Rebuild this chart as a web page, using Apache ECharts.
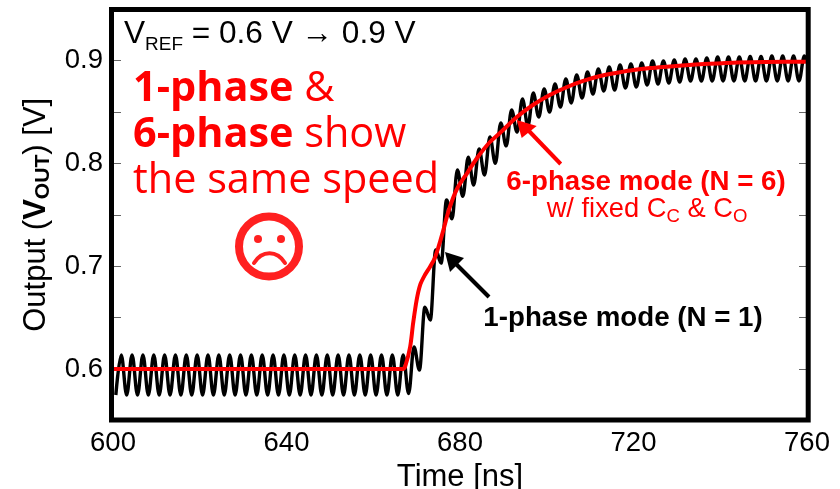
<!DOCTYPE html>
<html><head><meta charset="utf-8">
<style>html,body{margin:0;padding:0;background:#fff}#c{width:840px;height:489px}</style>
<script src="https://cdn.jsdelivr.net/npm/echarts@6/dist/echarts.min.js"></script>
</head><body><div id="c"></div>
<script>
const xTicks = [600, 640, 680, 720, 760];
const yTicks = [0.6, 0.7, 0.8, 0.9];
const onePhaseTime = [
600.65,601.9,603.15,604.4,605.65,606.9,608.15,609.4,610.65,611.9,613.15,614.4,615.65,616.9,618.15,619.4,620.65,621.9,623.15,624.4,
625.65,626.9,628.15,629.4,630.65,631.9,633.15,634.4,635.65,636.9,638.15,639.4,640.65,641.9,643.15,644.4,645.65,646.9,648.15,649.4,
650.65,651.9,653.15,654.4,655.65,656.9,658.15,659.4,660.65,661.9,663.15,664.4,665.65,666.9,668.15,
669.4,670.65,671.9,673.15,674.4,675.65,676.9,678.15,679.4,680.65,681.9,683.15,684.4,685.65,686.9,688.15,689.4,690.65,691.9,693.15,
694.4,695.65,696.9,698.15,699.4,700.65,701.9,703.15,704.4,705.65,706.9,708.15,709.4,710.65,711.9,713.15,714.4,715.65,716.9,718.15,
719.4,720.65,721.9,723.15,724.4,725.65,726.9,728.15,729.4,730.65,731.9,733.15,734.4,735.65,736.9,738.15,739.4,740.65,741.9,743.15,
744.4,745.65,746.9,748.15,749.4,750.65,751.9,753.15,754.4,755.65,756.9,758.15,759.4,760];
const onePhaseVolt = [
.5747,.6136,.5747,.6136,.5747,.6136,.5747,.6136,.5747,.6136,.5747,.6136,.5747,.6136,.5747,.6136,.5747,.6136,.5747,.6136,
.5747,.6136,.5747,.6136,.5747,.6136,.5747,.6136,.5747,.6136,.5747,.6136,.5747,.6136,.5747,.6136,.5747,.6136,.5747,.6136,
.5747,.6136,.5747,.6136,.5747,.6136,.5747,.6136,.5747,.6136,.5747,.6136,.5747,.6136,.576,
.6214,.599,.66,.6477,.7158,.703,.7644,.746,.7936,.768,.806,.779,.814,.7887,.8257,.8,.8393,.817,.852,.8305,
.8626,.8364,.8685,.8451,.8724,.85,.8773,.8549,.8821,.8588,.886,.8636,.8889,.8675,.8918,.8704,.8938,.8714,.8957,.8733,
.8967,.8743,.8977,.8763,.8996,.8772,.8996,.8782,.9006,.8792,.9016,.8802,.9016,.8802,.9025,.8802,.9035,.8802,.9035,.8802,
.9035,.8802,.904,.8802,.904,.8802,.9045,.8802,.9045,.8802,.9045,.8802,.9045,.898];
const sixPhaseTime = [600,640,660,666,666.9,667.4,668.5,669.2,670,670.8,671.9,673.1,674.2,675.4,676.3,677.5,679.3,681.8,684.1,686.9,689.2,693.1,696.8,700.7,704.7,708.4,712.3,716.2,720,723.8,727.7,735.3,742.9,750.8,759.5,760];
const sixPhaseVolt = [.6,.6,.6,.6,.6,.6029,.6214,.6447,.6671,.6817,.6914,.6995,.708,.7238,.7372,.7556,.7751,.7916,.8062,.8208,.8296,.8451,.8568,.8665,.8743,.8802,.885,.8882,.8909,.8928,.8941,.8964,.898,.8986,.8989,.899];

const RED = '#ff0000', FACE = '#ff2020';
const sans = '"Liberation Sans", Arial, sans-serif';
const soft = '"Open Sans", sans-serif';
const zip = (a, b) => a.map((v, i) => [v, b[i]]);
const rich = (size, color, ratio, drop) => ({
  n: {fontFamily: sans, fontSize: size, fill: color, color, verticalAlign: 'bottom', padding: [0, 0, drop || 0, 0]},
  b: {fontFamily: sans, fontSize: size, fontWeight: 'bold', fill: color, color, verticalAlign: 'bottom', padding: [0, 0, drop || 0, 0]},
  s: {fontFamily: sans, fontSize: size * (ratio || 0.68), fill: color, color, verticalAlign: 'bottom', lineHeight: size * 0.95},
  sb: {fontFamily: sans, fontSize: size * (ratio || 0.68), fontWeight: 'bold', fill: color, color, verticalAlign: 'bottom', lineHeight: size * 0.95}
});
const softRich = {
  b: {fontFamily: soft, fontSize: 41.4, fontWeight: 'bold', fill: RED},
  n: {fontFamily: soft, fontSize: 41.4, fill: RED}
};
const txt = (x, y, text, r, align) => ({type: 'text', z: 20, style: {x, y, text, rich: r, align: align || 'left', verticalAlign: 'middle'}});
const arrow = (color, x1, y1, x2, y2, pts) => [
  {type: 'line', z: 18, shape: {x1, y1, x2, y2}, style: {stroke: color, lineWidth: 4}},
  {type: 'polygon', z: 18, shape: {points: pts}, style: {fill: color}}
];

const chart = echarts.init(document.getElementById('c'), null, {renderer: 'canvas'});
const yAxisBase = {
  type: 'value', min: 0.55, max: 0.95, interval: 0.05,
  axisLine: {show: false}, splitLine: {show: false},
  axisTick: {show: true, inside: true, length: 8, lineStyle: {color: '#666', width: 1}}
};
chart.setOption({
  animation: false,
  backgroundColor: '#fff',
  grid: {left: 113, right: 33, top: 9.2, height: 411.2, outerBoundsMode: 'none'},
  xAxis: {
    type: 'value', min: 600, max: 760, interval: 40,
    axisLine: {show: false}, axisTick: {show: false}, splitLine: {show: false},
    axisLabel: {color: '#000', fontFamily: sans, fontSize: 27.5, margin: 9,
      formatter: v => xTicks.includes(v) ? String(v) : ''},
    name: 'Time [ns]', nameLocation: 'middle', nameGap: 35,
    nameTextStyle: {color: '#000', fontFamily: sans, fontSize: 31}
  },
  yAxis: [
    Object.assign({}, yAxisBase, {
      axisLabel: {color: '#000', fontFamily: sans, fontSize: 27.5, margin: 10,
        formatter: v => yTicks.some(t => Math.abs(t - v) < 1e-6) ? v.toFixed(1) : ''},
      name: '{n|Output (}{b|V}{sb|OUT}{n|) [V]}', nameLocation: 'middle', nameGap: 59,
      nameTextStyle: {rich: rich(31, '#000', 0.68, 2)}
    }),
    Object.assign({}, yAxisBase, {position: 'right', axisLabel: {show: false}})
  ],
  series: [
    {name: '1-phase mode (N = 1)', type: 'line', data: zip(onePhaseTime, onePhaseVolt), showSymbol: false,
     smooth: 0.36, smoothMonotone: 'x', lineStyle: {color: '#000', width: 3.4}, z: 3},
    {name: '6-phase mode (N = 6)', type: 'line', data: zip(sixPhaseTime, sixPhaseVolt), showSymbol: false,
     smooth: 0.3, lineStyle: {color: RED, width: 4}, z: 4}
  ],
  graphic: [
    {type: 'rect', z: 30, shape: {x: 111.5, y: 9.5, width: 696.7, height: 410.5}, style: {fill: 'none', stroke: '#000', lineWidth: 5}},
    txt(124, 36, '{n|V}{s|REF}{n| = 0.6 V → 0.9 V}', rich(31.6, '#000', 0.6, 4)),
    txt(133, 89, '{b|1-phase}{n| &}', softRich),
    txt(133, 135, '{b|6-phase}{n| show}', softRich),
    txt(133, 181, '{n|the same speed}', softRich),
    txt(646, 182, '{b|6-phase mode (N = 6)}', rich(27.7, RED), 'center'),
    txt(647, 211, '{n|w/ fixed C}{s|C}{n| & C}{s|O}', rich(27.3, RED, 0.68, 3), 'center'),
    txt(623, 318, '{b|1-phase mode (N = 1)}', rich(27.7, '#000'), 'center'),
    ...arrow('#000', 489, 297, 455, 263, [[445, 252], [464, 258], [450, 272]]),
    ...arrow(RED, 560.7, 164, 528, 130, [[516.7, 120], [536.7, 126], [521.7, 138]]),
    {type: 'circle', z: 18, shape: {cx: 269, cy: 246.5, r: 30}, style: {fill: 'none', stroke: FACE, lineWidth: 8}},
    {type: 'circle', z: 18, shape: {cx: 258, cy: 239, r: 4}, style: {fill: FACE}},
    {type: 'circle', z: 18, shape: {cx: 281, cy: 239, r: 4}, style: {fill: FACE}},
    {type: 'bezierCurve', z: 18, shape: {x1: 254, y1: 263, x2: 285, y2: 263, cpx1: 262, cpy1: 250, cpx2: 277, cpy2: 250},
     style: {fill: 'none', stroke: FACE, lineWidth: 4, lineCap: 'round'}}
  ]
});
</script></body></html>
